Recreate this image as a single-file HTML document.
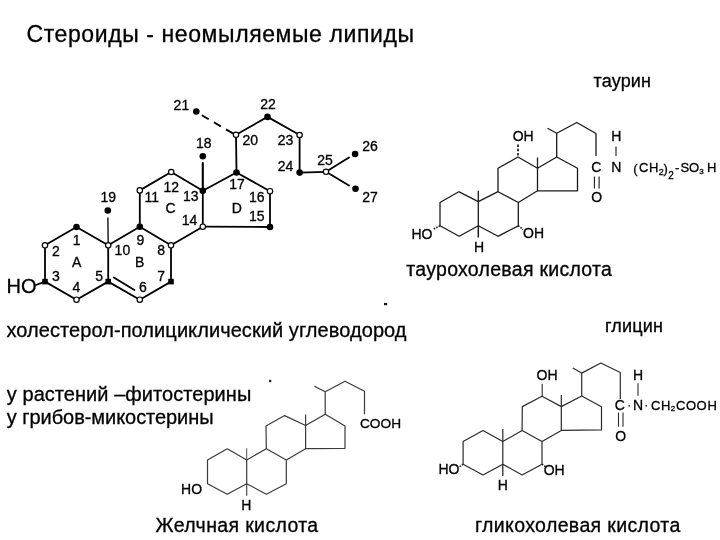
<!DOCTYPE html>
<html><head><meta charset="utf-8">
<style>
html,body{margin:0;padding:0;background:#fff;}
body{width:720px;height:540px;overflow:hidden;position:relative;}
svg{position:absolute;left:0;top:0;will-change:transform;}
text{font-family:"Liberation Sans",sans-serif;fill:#000;stroke:#000;stroke-width:0.3px;}
.n{font-size:14px;text-anchor:middle;}
</style></head><body>
<svg width="720" height="540" viewBox="0 0 720 540">
<text x="26.5" y="42" font-size="23" textLength="387.5" lengthAdjust="spacing">Стероиды - неомыляемые липиды</text>
<text x="6.5" y="337" font-size="20" textLength="400" lengthAdjust="spacing">холестерол-полициклический углеводород</text>
<text x="6.8" y="401" font-size="20" textLength="244.5" lengthAdjust="spacing">у растений –фитостерины</text>
<text x="6.8" y="424.4" font-size="20" textLength="206.8" lengthAdjust="spacing">у грибов-микостерины</text>
<text x="593.6" y="87.3" font-size="18" textLength="57.4" lengthAdjust="spacing">таурин</text>
<text x="406.3" y="276" font-size="19.5" textLength="205.6" lengthAdjust="spacing">таурохолевая кислота</text>
<text x="604.9" y="331.5" font-size="18" textLength="58" lengthAdjust="spacing">глицин</text>
<text x="155.6" y="532" font-size="19.5" textLength="162.6" lengthAdjust="spacing">Желчная кислота</text>
<text x="475" y="532" font-size="19.5" textLength="205.3" lengthAdjust="spacing">гликохолевая кислота</text>
<g stroke="#000" stroke-width="1.8" fill="none" stroke-linecap="round" stroke-linejoin="round">
<polyline points="45,245.3 76.5,227 108.2,245.3 139.8,226.8 171,245.3 171,281.6 139.8,299.7 108.2,281.6 76.5,299.7 45,281.6 45,245.3"/>
<line x1="108.2" y1="245.3" x2="108.2" y2="281.6"/>
<line x1="107.9" y1="218" x2="108.2" y2="245.3" stroke-width="1.3"/>
<line x1="113.8" y1="277.5" x2="134.4" y2="290"/>
<polyline points="139.8,226.8 139.8,190.4 171.2,172 202.8,190.8 202.8,226.7 171,245.3"/>
<line x1="202.8" y1="163" x2="202.8" y2="190.8" stroke-width="2.1"/>
<polyline points="202.8,190.8 236.5,172.5 270,191.2 270,227 202.8,226.7"/>
<polyline points="236.5,172.5 236,134.8 267.5,116.9 299.6,135 299.6,172.6 326,171.8"/>
<line x1="201.8" y1="115.3" x2="234" y2="134" stroke-dasharray="8,6" stroke-linecap="butt"/>
<line x1="326" y1="171.8" x2="349" y2="157.5"/>
<line x1="326" y1="171.8" x2="349" y2="185.5"/>
<line x1="36" y1="285" x2="45" y2="281.6"/>
</g>
<g fill="#000">
<circle cx="76.5" cy="227" r="3.3"/>
<circle cx="139.8" cy="226.8" r="3.3"/>
<circle cx="202.8" cy="190.8" r="3.3"/>
<circle cx="236.5" cy="172.5" r="3.3"/>
<circle cx="270" cy="227" r="3.3"/>
<circle cx="202.8" cy="156.3" r="3.3"/>
<circle cx="107.8" cy="210.5" r="3.3"/>
<circle cx="196.3" cy="111.5" r="3.3"/>
<circle cx="267.5" cy="116.9" r="3.3"/>
<circle cx="299.6" cy="172.6" r="3.3"/>
<circle cx="355.1" cy="154" r="3.3"/>
<circle cx="355.5" cy="188.7" r="3.3"/>
<rect x="42.2" y="278.8" width="5.6" height="5.6"/>
<rect x="105.4" y="278.8" width="5.6" height="5.6"/>
<rect x="168.2" y="278.8" width="5.6" height="5.6"/>
</g>
<g fill="#fff" stroke="#000" stroke-width="1.2">
<circle cx="45" cy="245.3" r="2.7"/>
<circle cx="76.5" cy="299.7" r="2.7"/>
<circle cx="139.8" cy="299.7" r="2.7"/>
<circle cx="171" cy="245.3" r="2.7"/>
<circle cx="108.2" cy="245.3" r="2.7"/>
<circle cx="139.8" cy="190.4" r="2.7"/>
<circle cx="171.2" cy="172" r="2.7"/>
<circle cx="202.8" cy="226.7" r="2.7"/>
<circle cx="270" cy="191.2" r="2.7"/>
<circle cx="236" cy="134.8" r="2.7"/>
<circle cx="299.6" cy="135" r="2.7"/>
<circle cx="326" cy="171.8" r="2.7"/>
</g>
<g class="n">
<text x="76.7" y="244.7">1</text>
<text x="55.8" y="255.7">2</text>
<text x="76.7" y="267.2">A</text>
<text x="55.8" y="281.2">3</text>
<text x="76.3" y="292.2">4</text>
<text x="99.2" y="281">5</text>
<text x="140.3" y="244.5">9</text>
<text x="122.4" y="255.2">10</text>
<text x="161.1" y="255.2">8</text>
<text x="139.7" y="267.4">B</text>
<text x="161.1" y="281.1">7</text>
<text x="142.8" y="291.9">6</text>
<text x="189.6" y="225.1">14</text>
<text x="170.5" y="213.2">C</text>
<text x="151.7" y="202">11</text>
<text x="171.2" y="192.1">12</text>
<text x="190.7" y="201.4">13</text>
<text x="108.3" y="202">19</text>
<text x="203.8" y="148.1">18</text>
<text x="181.4" y="110">21</text>
<text x="268" y="109">22</text>
<text x="250.3" y="144.7">20</text>
<text x="237" y="189.4">17</text>
<text x="256.7" y="202">16</text>
<text x="256.7" y="220.7">15</text>
<text x="236.7" y="213">D</text>
<text x="285.6" y="145.1">23</text>
<text x="285.6" y="170.9">24</text>
<text x="325.1" y="164.7">25</text>
<text x="370" y="150.9">26</text>
<text x="370" y="202.2">27</text>
</g>
<text x="6.5" y="293.3" font-size="20">HO</text>
<g stroke="#1a1a1a" stroke-width="1.3" fill="none" stroke-linejoin="round">
<polyline points="458.7,191.7 440,202.5 440,225.8 459.2,236.3 478.3,225.8 478.3,201.7 458.7,191.7"/>
<polyline points="478.3,201.7 498,191.7 518.3,202.5 518.3,225.8 498,236.3 478.3,225.8"/>
<polyline points="498,191.7 498,168.3 518,157 537.5,168.3 537.5,190.8 518.3,202.5"/>
<polyline points="537.5,168.3 556.7,157 577.5,168.3 577.5,190.8 537.5,190.8"/>
<polyline points="556.7,157 556.7,133.3 576.7,122.5 596,133.5 596,156"/>
<line x1="556.7" y1="133.3" x2="547.5" y2="128.3"/>
<line x1="478.3" y1="201.7" x2="478.3" y2="190.8"/>
<line x1="537.5" y1="168.3" x2="537.5" y2="157.5"/>
<line x1="478.3" y1="225.8" x2="478.3" y2="237.5" stroke-width="1.5"/>
<line x1="594.4" y1="176.5" x2="594.4" y2="188.5" stroke-width="1.1"/>
<line x1="599.1" y1="176.5" x2="599.1" y2="188.5" stroke-width="1.1"/>
<line x1="616" y1="146.5" x2="616" y2="156" stroke-width="1.1"/>
<line x1="518" y1="155.5" x2="518" y2="144.5" stroke-dasharray="2.5,1.8" stroke-width="1.7"/>
<line x1="518.3" y1="225.8" x2="523" y2="229.5" stroke-dasharray="1.5,1.2" stroke-width="1.6"/>
<line x1="440" y1="225.8" x2="433" y2="229.5" stroke-dasharray="1.5,1.2" stroke-width="1.6"/>
</g>
<text x="523.2" y="141.3" font-size="14" text-anchor="middle">OH</text>
<text x="533.5" y="237.8" font-size="14" text-anchor="middle">OH</text>
<text x="422" y="238.8" font-size="14" text-anchor="middle">HO</text>
<text x="479" y="251.7" font-size="14" text-anchor="middle">H</text>
<text x="596.2" y="172.2" font-size="14" text-anchor="middle">C</text>
<text x="596.7" y="201.6" font-size="14" text-anchor="middle">O</text>
<text x="616.4" y="141.3" font-size="14" text-anchor="middle">H</text>
<text x="616.4" y="172.2" font-size="14" text-anchor="middle">N</text>
<text x="635.5" y="172.8" font-size="13" text-anchor="middle">(</text>
<text x="643.6" y="171.6" font-size="13" text-anchor="middle">C</text>
<text x="653.8" y="171.6" font-size="13" text-anchor="middle">H</text>
<text x="661.3" y="174.8" font-size="9" text-anchor="middle">2</text>
<text x="665.7" y="172.8" font-size="13" text-anchor="middle">)</text>
<text x="671.1" y="178.6" font-size="10" text-anchor="middle">2</text>
<text x="677.2" y="171.6" font-size="13" text-anchor="middle">-</text>
<text x="684.8" y="171.6" font-size="13" text-anchor="middle">S</text>
<text x="694.1" y="171.6" font-size="13" text-anchor="middle">O</text>
<text x="701.4" y="174.2" font-size="8" text-anchor="middle">3</text>
<text x="711.6" y="171.6" font-size="13" text-anchor="middle">H</text>
<g stroke="#3a3a3a" stroke-width="1.2" fill="none" stroke-linejoin="round">
<polyline points="227.2,448.7 207.5,460 207.5,483.7 227.2,494.2 246.7,483.7 246.7,460 227.2,448.7"/>
<polyline points="246.7,460 266.3,448.7 286.3,460 286.3,483.7 266.3,494.2 246.7,483.7"/>
<polyline points="266.3,448.7 266,426 284.6,415.6 305.6,425.5 305.6,448.7 286.3,460"/>
<polyline points="305.6,425.5 325.2,414.2 345,426 345,448.5 305.6,448.7"/>
<polyline points="325.2,414.2 325.2,391.7 345,381.2 364.5,391.3 364.5,414.2"/>
<line x1="325.2" y1="391.7" x2="314.4" y2="386.2"/>
<line x1="246.7" y1="460" x2="246.7" y2="448.3" stroke-width="0.9"/>
<line x1="246.7" y1="483.7" x2="246.7" y2="495.8" stroke-width="1.1"/>
<line x1="305.6" y1="425.5" x2="305.6" y2="414.4"/>
</g>
<text x="246.3" y="509.7" font-size="14" text-anchor="middle">H</text>
<text x="191.6" y="493.6" font-size="14" text-anchor="middle">HO</text>
<text x="360" y="428.3" font-size="13.5" textLength="41" lengthAdjust="spacingAndGlyphs">COOH</text>
<g stroke="#2a2a2a" stroke-width="1.2" fill="none" stroke-linejoin="round">
<polyline points="483,430.4 463.1,441.6 463.1,464.2 483,475 502.8,464.2 502.8,441.6 483,430.4"/>
<polyline points="502.8,441.6 522.1,430.4 542,441.6 542,464.2 522.1,475 502.8,464.2"/>
<polyline points="522.1,430.4 522.3,406.6 542,396.3 561.3,406.6 561.3,430.4 542,441.6"/>
<polyline points="561.3,406.6 581.7,396 601.5,406.7 601.5,429.8 561.3,430.4"/>
<polyline points="581.7,396 581.7,373.1 600.8,363 620.3,372.5 620.3,399"/>
<line x1="581.7" y1="373.1" x2="572.8" y2="368"/>
<line x1="502.8" y1="441.6" x2="502.8" y2="429"/>
<line x1="561.3" y1="406.6" x2="561.3" y2="395"/>
<line x1="502.8" y1="464.2" x2="502.8" y2="476" stroke-width="1.3"/>
<line x1="618.5" y1="412.5" x2="618.5" y2="426.7" stroke-width="1.1"/>
<line x1="623" y1="412.5" x2="623" y2="426.7" stroke-width="1.1"/>
<line x1="638" y1="383.3" x2="638" y2="395.8" stroke-width="1.1"/>
<line x1="542.2" y1="396.3" x2="542.2" y2="384" stroke-width="1.1"/>
<line x1="542" y1="464.2" x2="546" y2="467" stroke-dasharray="1.5,1.2" stroke-width="1.6"/>
<line x1="463.1" y1="464.2" x2="459" y2="467" stroke-dasharray="1.5,1.2" stroke-width="1.6"/>
</g>
<text x="547.1" y="379.8" font-size="14" text-anchor="middle">OH</text>
<text x="554.2" y="475.2" font-size="14" text-anchor="middle">OH</text>
<text x="449" y="474.1" font-size="14" text-anchor="middle">HO</text>
<text x="502.8" y="490.4" font-size="14" text-anchor="middle">H</text>
<text x="619.9" y="410" font-size="14" text-anchor="middle">C</text>
<text x="620.8" y="440.8" font-size="14" text-anchor="middle">O</text>
<text x="638" y="380" font-size="14" text-anchor="middle">H</text>
<text x="638" y="409.7" font-size="14" text-anchor="middle">N</text>
<g fill="#333"><circle cx="629.2" cy="405.8" r="0.9"/><circle cx="646.2" cy="405.8" r="0.9"/></g>
<text x="655.6" y="410" font-size="13" text-anchor="middle">C</text>
<text x="665.6" y="410" font-size="13" text-anchor="middle">H</text>
<text x="672.9" y="410.7" font-size="8" text-anchor="middle">2</text>
<text x="680.6" y="410" font-size="13" text-anchor="middle">C</text>
<text x="691.1" y="410" font-size="13" text-anchor="middle">O</text>
<text x="701.6" y="410" font-size="13" text-anchor="middle">O</text>
<text x="712.1" y="410" font-size="13" text-anchor="middle">H</text>
<g fill="#111"><rect x="384" y="303" width="3.2" height="2.2"/><rect x="269.2" y="379.8" width="2" height="2.4"/></g>
</svg>
</body></html>
